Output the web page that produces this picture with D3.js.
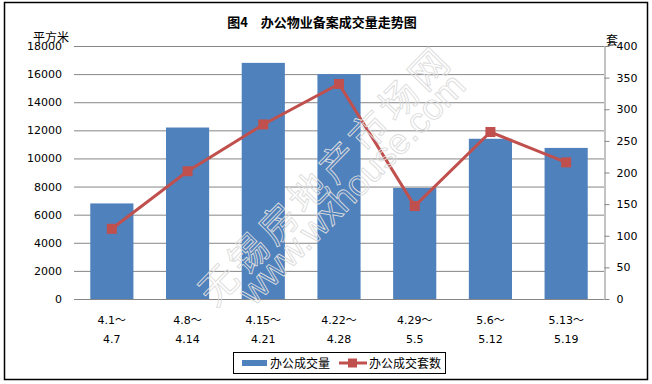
<!DOCTYPE html>
<html>
<head>
<meta charset="utf-8">
<script src="https://cdn.jsdelivr.net/npm/d3@7"></script>
<style>
  body { margin: 0; background: #fff; }
  svg text { font-family: "DejaVu Sans", "Noto Sans CJK SC", sans-serif; fill: #000; }
</style>
</head>
<body>
<svg id="chart" width="652" height="384"></svg>
<script>
const categories = ['4.1～|4.7', '4.8～|4.14', '4.15～|4.21', '4.22～|4.28', '4.29～|5.5', '5.6～|5.12', '5.13～|5.19'];
const areaValues = [6800, 12200, 16800, 16000, 7900, 11400, 10750];
const unitValues = [111, 202, 276, 340, 147, 264, 216];
const leftTicks = [0, 2000, 4000, 6000, 8000, 10000, 12000, 14000, 16000, 18000];
const rightTicks = [0, 50, 100, 150, 200, 250, 300, 350, 400];
const seriesNames = ['办公成交量', '办公成交套数'];

const barColor = '#4F81BD';
const lineColor = '#C0504D';
const gridColor = '#868686';

const svg = d3.select('#chart');
const margin = {top: 46, right: 48, bottom: 85, left: 74};
const plotLeft = margin.left, plotRight = 652 - margin.right;
const plotTop = margin.top, plotBottom = 384 - margin.bottom;

// outer frame
svg.append('rect')
    .attr('x', 4.5).attr('y', 2.5)
    .attr('width', 643).attr('height', 377)
    .attr('fill', 'none').attr('stroke', '#000').attr('stroke-width', 1.5);

const x = d3.scaleBand()
    .domain(categories)
    .range([plotLeft, plotRight])
    .paddingInner(0.43)
    .paddingOuter(0.215);

const yLeft = d3.scaleLinear().domain([0, 18000]).range([plotBottom, plotTop]);
const yRight = d3.scaleLinear().domain([0, 400]).range([plotBottom, plotTop]);

// title
svg.append('text')
    .attr('x', 322).attr('y', 27)
    .attr('text-anchor', 'middle')
    .style('font-family', '"Noto Sans CJK SC", sans-serif')
    .style('font-size', '13px').style('font-weight', 'bold')
    .text('图4　办公物业备案成交量走势图');

// left axis + gridlines
const leftAxis = svg.append('g')
    .attr('transform', `translate(${plotLeft},0)`)
    .call(d3.axisLeft(yLeft).tickValues(leftTicks).tickSize(-(plotRight - plotLeft)).tickPadding(12).tickFormat(d3.format('d')));
leftAxis.select('.domain').remove();
leftAxis.selectAll('.tick line').attr('stroke', gridColor).attr('stroke-width', 1);
leftAxis.selectAll('.tick text').style('font-size', '11px').attr('fill', '#000');

// bars
svg.append('g').selectAll('rect')
    .data(areaValues)
    .enter().append('rect')
    .attr('x', (d, i) => x(categories[i]))
    .attr('y', d => yLeft(d))
    .attr('width', x.bandwidth())
    .attr('height', d => plotBottom - yLeft(d))
    .attr('fill', barColor);

// bottom axis line
svg.append('line')
    .attr('x1', plotLeft).attr('x2', plotRight)
    .attr('y1', plotBottom + 0.5).attr('y2', plotBottom + 0.5)
    .attr('stroke', gridColor);

// right axis
const rightAxis = svg.append('g')
    .attr('transform', `translate(${plotRight + 0.5},0)`)
    .call(d3.axisRight(yRight).tickValues(rightTicks).tickSize(5).tickSizeOuter(0).tickPadding(7));
rightAxis.select('.domain').attr('stroke', gridColor);
rightAxis.selectAll('.tick line').attr('stroke', gridColor);
rightAxis.selectAll('.tick text').style('font-size', '11px').attr('fill', '#000');

// axis unit labels
svg.append('text').attr('x', 33).attr('y', 42)
    .style('font-family', '"Noto Sans CJK SC", sans-serif').style('font-size', '12px')
    .text('平方米');
svg.append('text').attr('x', 606).attr('y', 45)
    .style('font-family', '"Noto Sans CJK SC", sans-serif').style('font-size', '12px')
    .text('套');

// line series
const cx = (d, i) => x(categories[i]) + x.bandwidth() / 2;
svg.append('path')
    .datum(unitValues)
    .attr('fill', 'none')
    .attr('stroke', lineColor)
    .attr('stroke-width', 3)
    .attr('d', d3.line().x(cx).y(d => yRight(d)));
svg.append('g').selectAll('rect')
    .data(unitValues)
    .enter().append('rect')
    .attr('x', (d, i) => cx(d, i) - 5)
    .attr('y', d => yRight(d) - 5)
    .attr('width', 10).attr('height', 10)
    .attr('fill', lineColor);

// watermark: thin light outlines on top (style fill so the css rule doesn't win)
const wm = svg.append('g')
    .attr('transform', 'translate(215,308) rotate(-45.7)');
wm.append('text').attr('x', 0).attr('y', 0)
    .style('font-family', '"Noto Sans CJK SC", sans-serif').style('font-size', '38px')
    .style('letter-spacing', '5px')
    .style('fill', 'none').style('stroke', '#dcdcdc').style('stroke-width', '0.9px')
    .text('无锡房地产市场网');
wm.append('text').attr('x', 28).attr('y', 27)
    .style('font-family', '"Liberation Sans", sans-serif').style('font-size', '36px')
    .style('fill', 'none').style('stroke', '#dcdcdc').style('stroke-width', '0.9px')
    .text('www.wxhouse.com');

// category labels (two lines)
const catLabels = svg.append('g');
categories.forEach((c, i) => {
  const parts = c.split('|');
  const t = catLabels.append('text')
      .attr('text-anchor', 'middle')
      .style('font-size', '11px');
  t.append('tspan').attr('x', cx(null, i)).attr('y', 324).text(parts[0]);
  t.append('tspan').attr('x', cx(null, i)).attr('y', 343).text(parts[1]);
});

// legend
const legend = svg.append('g');
legend.append('rect')
    .attr('x', 233.5).attr('y', 352.5).attr('width', 212).attr('height', 21)
    .attr('fill', '#fff').attr('stroke', '#000').attr('stroke-width', 1);
legend.append('rect')
    .attr('x', 242).attr('y', 360).attr('width', 25).attr('height', 6)
    .attr('fill', barColor);
legend.append('text').attr('x', 270).attr('y', 368)
    .style('font-family', '"Noto Sans CJK SC", sans-serif').style('font-size', '12px')
    .text(seriesNames[0]);
legend.append('line')
    .attr('x1', 339).attr('x2', 367).attr('y1', 363).attr('y2', 363)
    .attr('stroke', lineColor).attr('stroke-width', 3);
legend.append('rect')
    .attr('x', 348).attr('y', 358.5).attr('width', 9).attr('height', 9)
    .attr('fill', lineColor);
legend.append('text').attr('x', 369).attr('y', 368)
    .style('font-family', '"Noto Sans CJK SC", sans-serif').style('font-size', '12px')
    .text(seriesNames[1]);
</script>
</body>
</html>
